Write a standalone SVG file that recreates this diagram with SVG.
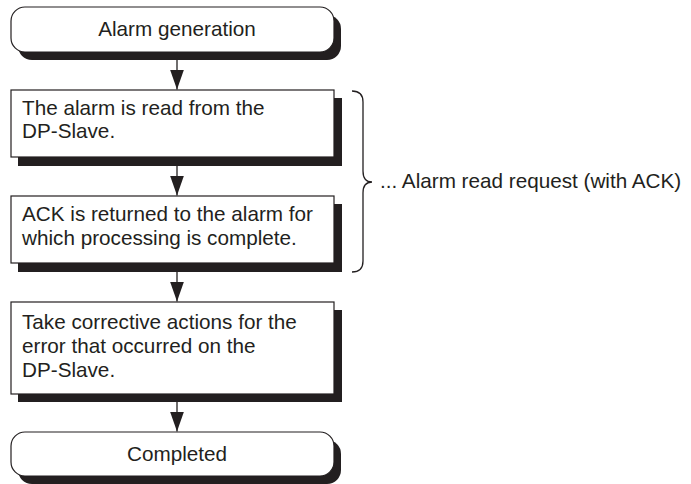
<svg xmlns="http://www.w3.org/2000/svg" width="691" height="484" viewBox="0 0 691 484">
<defs>
<style>
.box{fill:#fff;stroke:#231f20;stroke-width:1.2}
.sh{fill:#231f20}
.t{font-family:"Liberation Sans",Arial,sans-serif;font-size:20.7px;fill:#231f20}
.c{text-anchor:middle}
.ln{stroke:#231f20;stroke-width:1.3;fill:none}
</style>
<marker id="ah" markerWidth="20" markerHeight="14" refX="20" refY="7" orient="auto" markerUnits="userSpaceOnUse" viewBox="0 0 20 14">
<path d="M0,0 L20,7 L0,14 z" fill="#231f20"/>
</marker>
</defs>
<rect width="691" height="484" fill="#fff"/>
<g id="connectors">
<line class="ln" x1="177" y1="52" x2="177" y2="89.5" marker-end="url(#ah)"/>
<line class="ln" x1="177" y1="157" x2="177" y2="195.5" marker-end="url(#ah)"/>
<line class="ln" x1="177" y1="263" x2="177" y2="301.5" marker-end="url(#ah)"/>
<line class="ln" x1="177" y1="394" x2="177" y2="431.5" marker-end="url(#ah)"/>
</g>
<g id="start">
<rect class="sh" x="18" y="15" width="323" height="45" rx="14"/>
<rect class="box" x="11" y="7" width="323" height="45" rx="14"/>
<text class="t c" x="177" y="36">Alarm generation</text>
</g>
<g id="read">
<rect class="sh" x="18" y="98" width="324" height="68"/>
<rect class="box" x="11" y="90" width="323" height="67"/>
<text class="t" x="22" y="115">The alarm is read from the</text>
<text class="t" x="22" y="138">DP-Slave.</text>
</g>
<g id="ack">
<rect class="sh" x="18" y="204" width="324" height="68"/>
<rect class="box" x="11" y="196" width="323" height="67"/>
<text class="t" x="22" y="221">ACK is returned to the alarm for</text>
<text class="t" x="22" y="245">which processing is complete.</text>
</g>
<g id="corrective">
<rect class="sh" x="18" y="310" width="324" height="92"/>
<rect class="box" x="11" y="302" width="323" height="92"/>
<text class="t" x="22" y="329">Take corrective actions for the</text>
<text class="t" x="22" y="353">error that occurred on the</text>
<text class="t" x="22" y="377">DP-Slave.</text>
</g>
<g id="end">
<rect class="sh" x="18" y="440" width="323" height="44" rx="14"/>
<rect class="box" x="11" y="432" width="323" height="44" rx="14"/>
<text class="t c" x="177" y="461">Completed</text>
</g>
<g id="brace">
<path class="ln" d="M352,91 Q363,91 363,102 L363,171 Q363,182 372,182 Q363,182 363,193 L363,261 Q363,272 352,272"/>
<text class="t" x="380" y="188">... Alarm read request (with ACK)</text>
</g>
</svg>
